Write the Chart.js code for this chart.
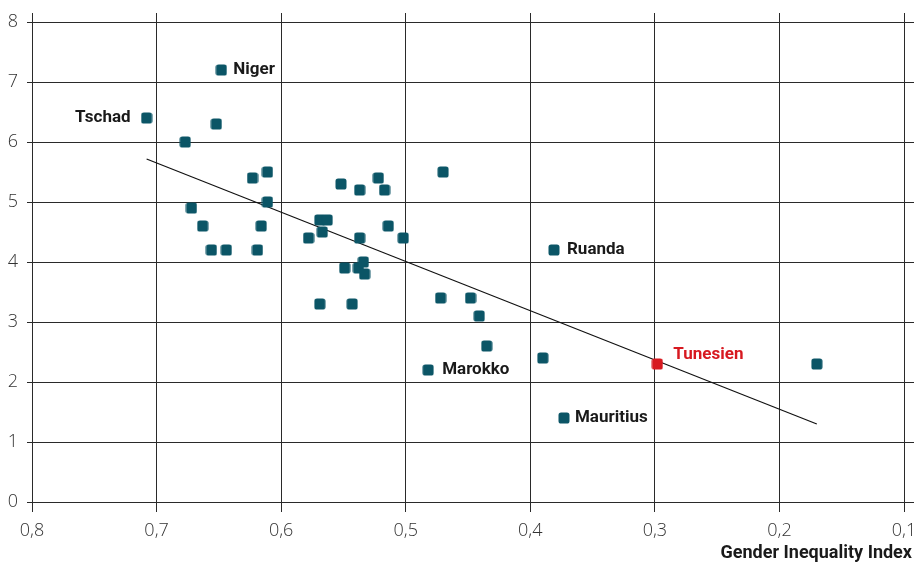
<!DOCTYPE html>
<html><head><meta charset="utf-8">
<script src="https://cdn.jsdelivr.net/npm/chart.js@4/dist/chart.umd.min.js"></script>
<style>html,body{margin:0;padding:0;background:#fff}canvas{display:block}</style>
</head><body>
<canvas id="c" width="914" height="563"></canvas>
<script>
// Gender Inequality Index (x) vs. fertility rate (y)
const countryNames = ['Tschad','Niger','','','','','','','','','','','','','','','','','','','','','','','','','','','','','','','','','','Marokko','Ruanda','','Mauritius','',''];
const giiValues = [0.708,0.648,0.677,0.652,0.672,0.663,0.656,0.644,0.623,0.611,0.611,0.616,0.619,0.578,0.569,0.563,0.567,0.569,0.552,0.549,0.543,0.537,0.537,0.538,0.534,0.533,0.522,0.517,0.514,0.502,0.470,0.472,0.448,0.441,0.435,0.482,0.381,0.390,0.373,0.170];
const fertilityValues = [6.4,7.2,6.0,6.3,4.9,4.6,4.2,4.2,5.4,5.5,5.0,4.6,4.2,4.4,4.7,4.7,4.5,3.3,5.3,3.9,3.3,4.4,5.2,3.9,4.0,3.8,5.4,5.2,4.6,4.4,5.5,3.4,3.4,3.1,2.6,2.2,4.2,2.4,1.4,2.3];
const highlightName = 'Tunesien';
const highlightGii = [0.298];
const highlightFertility = [2.3];
const trendGii = [0.708, 0.170];
const trendFertility = [5.717, 1.30];
const xTickValues = [0.8,0.7,0.6,0.5,0.4,0.3,0.2,0.1];
const yTickValues = [0,1,2,3,4,5,6,7,8];
const xAxisTitle = 'Gender Inequality Index';

const TEAL = '#0b5566', RED = '#d71920', GRID = '#2a2a2a';
function marker(color){
  const c = document.createElement('canvas'); c.width = 12; c.height = 12;
  const g = c.getContext('2d'); g.fillStyle = color;
  g.beginPath(); g.roundRect(0.5,0.5,11,11,2.6); g.fill();
  return c;
}
const tealMarker = marker(TEAL), redMarker = marker(RED);

// label offsets (style only)
const labelOffsets = {
  'Tschad':{dx:-16,dy:0,align:'right'},
  'Niger':{dx:12,dy:0,align:'left'},
  'Ruanda':{dx:13,dy:0,align:'left'},
  'Marokko':{dx:14,dy:0,align:'left'},
  'Mauritius':{dx:11,dy:0,align:'left'},
  'Tunesien':{dx:16,dy:-9,align:'left'}
};
const LABEL_FONT = 'bold 17px Roboto, "DejaVu Sans", sans-serif';
const TITLE_FONT = 'bold 18px Roboto, "DejaVu Sans", sans-serif';
const TICK_FONT = {family:'"Open Sans", Roboto, sans-serif', size:18, weight:'300'};

const labelPlugin = {
  id:'labels',
  afterDatasetsDraw(chart){
    const {ctx, scales:{x,y}} = chart;
    ctx.save();
    ctx.font = LABEL_FONT; ctx.textBaseline = 'middle';
    const draw = (name, gx, fy, color) => {
      const o = labelOffsets[name]; if(!o) return;
      ctx.fillStyle = color; ctx.textAlign = o.align;
      ctx.fillText(name, x.getPixelForValue(gx)+o.dx, y.getPixelForValue(fy)+o.dy);
    };
    countryNames.forEach((n,i)=>{ if(n) draw(n, giiValues[i], fertilityValues[i], '#1a1a1a'); });
    draw(highlightName, highlightGii[0], highlightFertility[0], RED);
    ctx.font = TITLE_FONT; ctx.fillStyle = '#1a1a1a'; ctx.textAlign='right';
    ctx.fillText(xAxisTitle, 912, 553);
    ctx.restore();
  }
};

new Chart(document.getElementById('c'), {
  type:'scatter',
  data:{datasets:[
    {label:highlightName, data: highlightGii.map((v,i)=>({x:v,y:highlightFertility[i]})), pointStyle: redMarker, pointRadius:6, hoverRadius:6},
    {label:'Länder', data: giiValues.map((v,i)=>({x:v,y:fertilityValues[i]})), pointStyle: tealMarker, pointRadius:6, hoverRadius:6},
    {type:'line', label:'Trend', data: trendGii.map((v,i)=>({x:v,y:trendFertility[i]})), borderColor:'#111', borderWidth:1.2, pointRadius:0, showLine:true, fill:false, tension:0}
  ]},
  options:{
    responsive:false, animation:false, devicePixelRatio:1,
    layout:{autoPadding:false, padding:{top:13,left:0,right:0,bottom:0}},
    plugins:{legend:{display:false}, tooltip:{enabled:false}},
    scales:{
      x:{type:'linear', reverse:true, min:0.092, max:0.8,
        afterBuildTicks: s => { s.ticks = xTickValues.map(v=>({value:v})); },
        afterFit: s => { s.height = 61; s.paddingLeft = 0; s.paddingRight = 0; },
        grid:{color:GRID, lineWidth:1, tickLength:10, drawTicks:true},
        border:{display:false},
        ticks:{font:TICK_FONT, color:'#333', padding:8, maxRotation:0, autoSkip:false,
          callback: v => v.toFixed(1).replace('.', ',')}
      },
      y:{type:'linear', min:0, max:8.15,
        afterBuildTicks: s => { s.ticks = yTickValues.map(v=>({value:v})); },
        afterFit: s => { s.width = 32; s.paddingTop = 0; s.paddingBottom = 0; },
        grid:{color:GRID, lineWidth:1, tickLength:5},
        border:{display:false},
        ticks:{font:TICK_FONT, color:'#333', padding:9, autoSkip:false, callback: v => String(v)}
      }
    }
  },
  plugins:[labelPlugin]
});
</script>
</body></html>
